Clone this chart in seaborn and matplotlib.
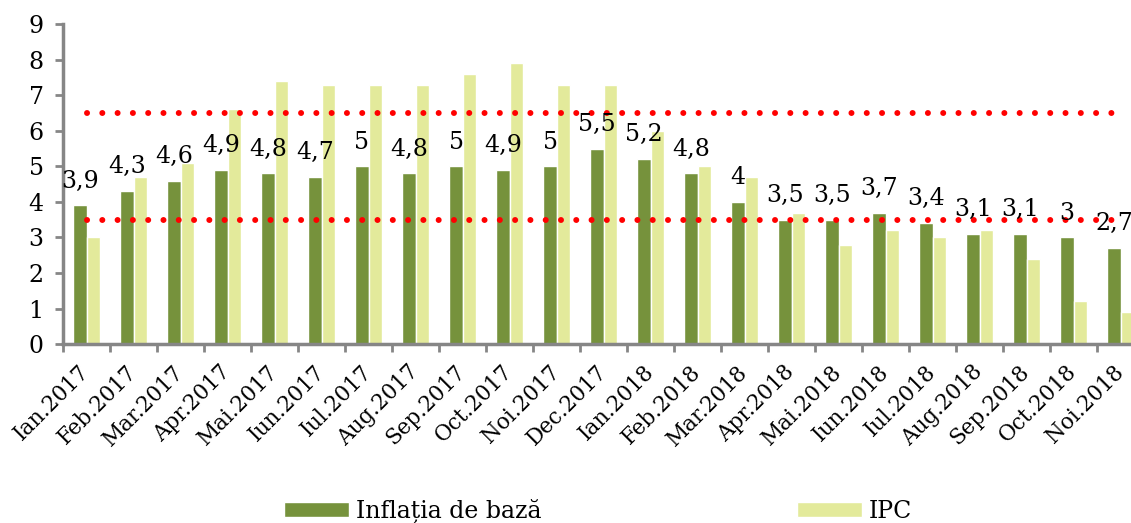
import matplotlib
matplotlib.use("Agg")
import matplotlib.pyplot as plt
import numpy as np
import pandas as pd
import seaborn as sns

# date
luni = ['Ian.2017', 'Feb.2017', 'Mar.2017', 'Apr.2017', 'Mai.2017', 'Iun.2017',
        'Iul.2017', 'Aug.2017', 'Sep.2017', 'Oct.2017', 'Noi.2017', 'Dec.2017',
        'Ian.2018', 'Feb.2018', 'Mar.2018', 'Apr.2018', 'Mai.2018', 'Iun.2018',
        'Iul.2018', 'Aug.2018', 'Sep.2018', 'Oct.2018', 'Noi.2018']
inflatia_baza = [3.9, 4.3, 4.6, 4.9, 4.8, 4.7, 5.0, 4.8, 5.0, 4.9, 5.0, 5.5,
                 5.2, 4.8, 4.0, 3.5, 3.5, 3.7, 3.4, 3.1, 3.1, 3.0, 2.7]
ipc = [3.0, 4.7, 5.1, 6.6, 7.4, 7.3, 7.3, 7.3, 7.6, 7.9, 7.3, 7.3,
       6.0, 5.0, 4.7, 3.7, 2.8, 3.2, 3.0, 3.2, 2.4, 1.2, 0.9]
tinta_jos = 3.5
tinta_sus = 6.5
serii = ['Inflația de bază', 'IPC']
culori = ['#76923C', '#E3EA9B']

df = pd.DataFrame({
    'luna': luni * 2,
    'valoare': inflatia_baza + ipc,
    'serie': [serii[0]] * len(luni) + [serii[1]] * len(luni),
})

sns.set_theme(style='white')
plt.rcParams['font.family'] = ['DejaVu Serif']
plt.rcParams['text.color'] = 'black'
plt.rcParams['xtick.color'] = 'black'
plt.rcParams['ytick.color'] = 'black'

fig = plt.figure(figsize=(11.31, 5.23), dpi=100)
ax = fig.add_axes([0.0557, 0.342, 0.956, 0.612])

sns.barplot(data=df, x='luna', y='valoare', hue='serie', palette=culori,
            width=0.57, gap=0, saturation=1, ax=ax, legend=True)

# linii tinta (punctate rosii)
for nivel in [tinta_jos, tinta_sus]:
    ax.plot([0, len(luni) - 1], [nivel, nivel], color='#FF0000',
            linewidth=4.3, linestyle=(0, (0.01, 2.55)),
            dash_capstyle='round', zorder=3)

# etichete valori deasupra barelor verzi
for i, v in enumerate(inflatia_baza):
    txt = ('%g' % v).replace('.', ',')
    ax.text(i - 0.14, v + 0.5, txt, ha='center', va='baseline', fontsize=17,
            color='black', zorder=4)

ax.set_ylim(0, 9)
ax.set_xlim(-0.5, len(luni) - 0.5)
ax.set_yticks(range(0, 10))
ax.set_xlabel('')
ax.set_ylabel('')

# etichetele lunilor, usor spre stanga (marcaj invizibil)
ax.set_xticks(np.arange(len(luni)) - 0.17)
ax.set_xticklabels(luni, rotation=45, ha='right', va='top',
                   rotation_mode='anchor', fontsize=15.5)
ax.set_xticks(np.arange(-0.5, len(luni)), minor=True)
ax.tick_params(axis='x', which='major', bottom=True, length=0, pad=12,
               labelcolor='black')
ax.tick_params(axis='x', which='minor', bottom=True, length=6, width=2,
               color='#868686')
ax.tick_params(axis='y', left=True, length=6, width=2, color='#868686',
               labelsize=17, pad=8, labelcolor='black')

for s in ['top', 'right']:
    ax.spines[s].set_visible(False)
for s in ['left', 'bottom']:
    ax.spines[s].set_color('#868686')
    ax.spines[s].set_linewidth(2.5)

leg = ax.legend(loc='center', bbox_to_anchor=(0.495, -0.52), ncol=2,
                frameon=False, fontsize=17, handlelength=2.75, handleheight=0.6,
                columnspacing=10.8, handletextpad=0.3)
for t in leg.get_texts():
    t.set_color('black')

fig.savefig('out.png', dpi=100)
